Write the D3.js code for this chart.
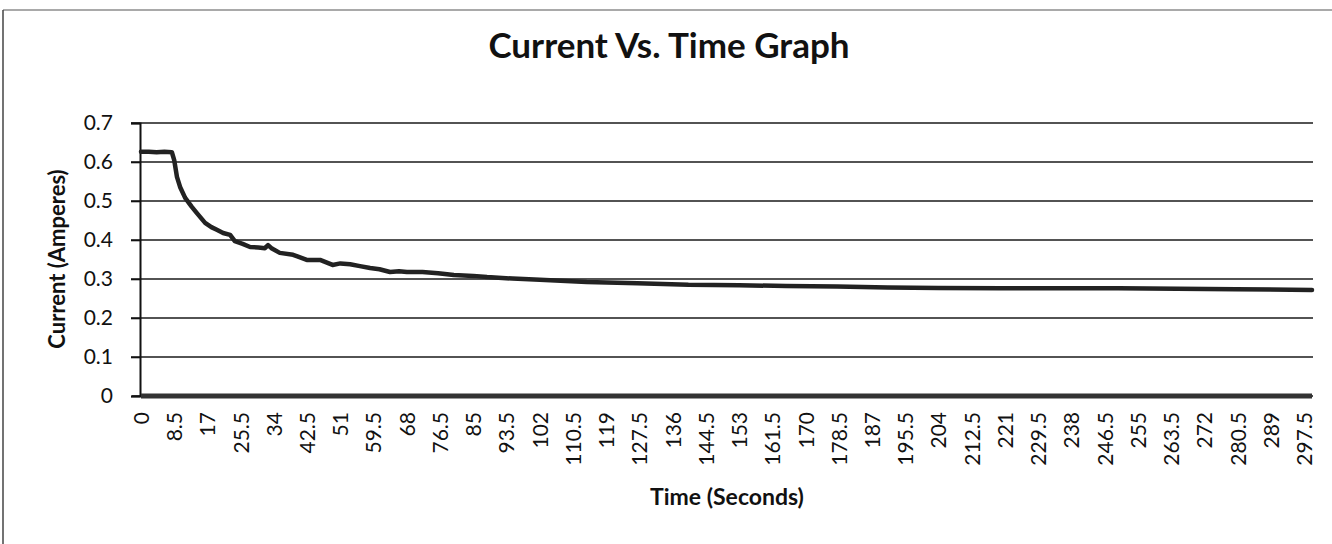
<!DOCTYPE html>
<html>
<head>
<meta charset="utf-8">
<script src="https://cdn.jsdelivr.net/npm/d3@7/dist/d3.min.js"></script>
<style>
  html, body { margin: 0; padding: 0; background: #fff; }
  svg { display: block; }
  text { font-family: Lato, "Open Sans", "DejaVu Sans", sans-serif; fill: #111; }
</style>
</head>
<body>
<svg id="chart" width="1332" height="544"></svg>
<script>
// ---- data ----
const title = "Current Vs. Time Graph";
const xTitle = "Time (Seconds)";
const yTitle = "Current (Amperes)";

const xTickLabels = ["0","8.5","17","25.5","34","42.5","51","59.5","68","76.5","85","93.5","102","110.5","119","127.5","136","144.5","153","161.5","170","178.5","187","195.5","204","212.5","221","229.5","238","246.5","255","263.5","272","280.5","289","297.5"];
const yTickValues = [0, 0.1, 0.2, 0.3, 0.4, 0.5, 0.6, 0.7];

const currentTimes = [0, 2, 4, 6, 7.9, 8.5, 9.2, 10, 11.3, 13, 14.3, 16.4, 18, 19.4, 21, 22.8, 24, 26, 27.9, 30, 31.7, 32.5, 33.5, 35.5, 38.9, 40, 42.4, 45.8, 49, 51, 53.5, 56, 58.6, 61, 63.7, 66, 68, 72, 76, 80, 85, 88.5, 95, 102, 114, 127, 140, 153, 165, 178, 191, 204, 220, 235, 250, 265, 280, 299.5];
const currentValues = [0.626, 0.626, 0.625, 0.626, 0.625, 0.605, 0.562, 0.536, 0.508, 0.485, 0.469, 0.444, 0.433, 0.426, 0.418, 0.413, 0.397, 0.390, 0.382, 0.381, 0.379, 0.387, 0.378, 0.367, 0.362, 0.358, 0.349, 0.349, 0.336, 0.340, 0.338, 0.333, 0.328, 0.325, 0.318, 0.320, 0.318, 0.318, 0.315, 0.310, 0.308, 0.305, 0.301, 0.298, 0.292, 0.289, 0.285, 0.284, 0.282, 0.281, 0.278, 0.277, 0.276, 0.276, 0.276, 0.275, 0.274, 0.272];

const baseTimes = [0, 50, 100, 150, 200, 250, 299.5];
const baseValues = [0, 0, 0, 0, 0, 0, 0];

// ---- layout ----
const W = 1332, H = 544;
const plot = { left: 140, right: 1313, top: 123, bottom: 396 };

const svg = d3.select("#chart");

// chart frame (scan edges)
svg.append("line").attr("x1", 3).attr("x2", W).attr("y1", 10).attr("y2", 10)
  .attr("stroke", "#555").attr("stroke-width", 1.2);
svg.append("line").attr("x1", 3).attr("x2", 3).attr("y1", 10).attr("y2", H)
  .attr("stroke", "#444").attr("stroke-width", 1.5);

// scales: category axis, each 0.5 s sample one category
const x = d3.scaleLinear().domain([-0.25, 299.75]).range([plot.left, plot.right]);
const y = d3.scaleLinear().domain([0, 0.7]).range([plot.bottom, plot.top]);

// gridlines
const grid = svg.append("g");
grid.selectAll("line").data(yTickValues.filter(v => v > 0)).join("line")
  .attr("x1", plot.left - 9).attr("x2", plot.right)
  .attr("y1", d => y(d)).attr("y2", d => y(d))
  .attr("stroke", "#1a1a1a").attr("stroke-width", 1.6);

// y axis
const yAxis = d3.axisLeft(y).tickValues(yTickValues).tickFormat(d3.format("")).tickSize(9).tickPadding(18);
const gy = svg.append("g").attr("transform", `translate(${plot.left},0)`).call(yAxis);
gy.select(".domain").attr("stroke", "#111").attr("stroke-width", 2);
gy.selectAll(".tick line").attr("stroke", "#111").attr("stroke-width", 1.6);
gy.selectAll(".tick text").style("font-size", "21px").attr("fill", "#111");

// x axis (category labels rotated)
const xAxis = d3.axisBottom(x).tickValues(xTickLabels.map(Number)).tickFormat((d, i) => xTickLabels[i]).tickSize(0).tickPadding(0);
const gx = svg.append("g").attr("transform", `translate(0,${plot.bottom})`).call(xAxis);
gx.select(".domain").remove();
gx.selectAll(".tick text")
  .style("font-size", "21px")
  .attr("text-anchor", "end")
  .attr("dy", "0.35em")
  .attr("transform", "translate(0,16) rotate(-90)")
  .attr("x", 0).attr("y", 0);

// x axis baseline
svg.append("line").attr("x1", plot.left - 8).attr("x2", plot.right)
  .attr("y1", y(0)).attr("y2", y(0)).attr("stroke", "#111").attr("stroke-width", 1.6);

// lines
const line = d3.line().x(d => x(d[0])).y(d => y(d[1]));

svg.append("path")
  .datum(baseTimes.map((t, i) => [t, baseValues[i]]))
  .attr("d", line).attr("fill", "none")
  .attr("stroke", "#333").attr("stroke-width", 5);

svg.append("path")
  .datum(currentTimes.map((t, i) => [t, currentValues[i]]))
  .attr("d", line).attr("fill", "none")
  .attr("stroke", "#222").attr("stroke-width", 4.5)
  .attr("stroke-linejoin", "round").attr("stroke-linecap", "round");

// titles
svg.append("text").attr("x", 669).attr("y", 58).attr("text-anchor", "middle")
  .style("font-size", "35px").style("font-weight", "bold").text(title);

svg.append("text").attr("x", 727).attr("y", 505).attr("text-anchor", "middle")
  .style("font-size", "23px").style("font-weight", "bold").text(xTitle);

svg.append("text").attr("transform", "translate(65,259) rotate(-90)").attr("text-anchor", "middle")
  .style("font-size", "22px").style("font-weight", "bold").text(yTitle);
</script>
</body>
</html>
